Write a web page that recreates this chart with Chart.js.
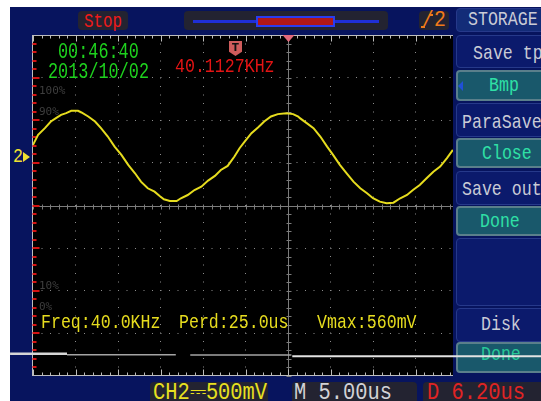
<!DOCTYPE html>
<html>
<head>
<meta charset="utf-8">
<script src="https://cdn.jsdelivr.net/npm/chart.js@4.4.1/dist/chart.umd.min.js"></script>
<style>
  html, body { margin: 0; padding: 0; background: #fff; }
  body { position: relative; width: 541px; height: 401px; overflow: hidden; }
  #screen { position: absolute; left: 10px; top: 7px; right: 0; bottom: 0; background: #07145e; }
  .t { position: absolute; font-family: "Liberation Mono", monospace; white-space: pre; line-height: 1;
       font-size: 21px; transform: scaleX(0.79); transform-origin: 0 0; }
  .big { font-size: 24px; transform: scaleX(0.85); }
  .pct { position: absolute; font-family: "DejaVu Sans Mono", monospace; font-size: 11px; line-height: 1; color: #3e3e3e; z-index: 3; }
  .box { position: absolute; background: #232331; border-radius: 4px; }
  .lbl { position: absolute; left: 456px; width: 100px; box-sizing: border-box; background: #0b1a6c; border: 1px solid #26398a; border-radius: 4px; }
  .btn { position: absolute; left: 456px; width: 100px; box-sizing: border-box; background: #19586b; border: 2px solid #5a7f8b; border-radius: 4px; }
  .menu { color: #c9cbd6; }
  .menu-on { color: #2fe0a6; }
  #wrap { position: absolute; left: 0; top: 0; width: 541px; height: 401px; z-index: 2; pointer-events: none; }
  .over { z-index: 3; }
</style>
</head>
<body>
<div id="screen"></div>

<!-- status bar -->
<div class="box" style="left:78px;top:11px;width:50px;height:19px;"></div>
<div class="t" style="left:84px;top:12px;font-size:20px;color:#f01a1a;">Stop</div>
<div class="box" style="left:184px;top:11px;width:204px;height:19px;"></div>
<div style="position:absolute;left:193px;top:20px;width:186px;height:3px;background:#1f2fd6;"></div>
<div style="position:absolute;left:256px;top:16px;width:75px;height:7px;border:2px solid #2a3cf0;background:#b01818;"></div>
<div class="box" style="left:419px;top:11px;width:30px;height:19px;"></div>
<div class="t" style="left:422px;top:10px;font-size:22px;transform:scaleX(0.9);color:#f07a1a;">/2</div>
<div style="position:absolute;left:429px;top:14px;width:4px;height:2px;background:#f07a1a;"></div>
<div style="position:absolute;left:421px;top:26px;width:4px;height:2px;background:#f07a1a;"></div>

<!-- side menu -->
<div class="lbl" style="top:8px;height:24px;background:#132c78;"></div>
<div class="t menu" style="left:468px;top:9px;">STORAGE</div>
<div class="lbl" style="top:35px;height:33px;"></div>
<div class="t menu" style="left:473px;top:43px;">Save tp</div>
<div class="btn" style="top:70px;height:31px;"></div>
<div style="position:absolute;left:458px;top:81px;width:0;height:0;border-top:5px solid transparent;border-bottom:5px solid transparent;border-right:5px solid #2050d8;"></div>
<div class="t menu-on" style="left:489px;top:75px;">Bmp</div>
<div class="lbl" style="top:103px;height:34px;"></div>
<div class="t menu" style="left:462px;top:112px;">ParaSave</div>
<div class="btn" style="top:138px;height:30px;"></div>
<div class="t menu-on" style="left:482px;top:143px;">Close</div>
<div class="lbl" style="top:171px;height:34px;"></div>
<div class="t menu" style="left:462px;top:179px;">Save out</div>
<div class="btn" style="top:206px;height:30px;"></div>
<div class="t menu-on" style="left:480px;top:211px;">Done</div>
<div class="lbl" style="top:238px;height:68px;"></div>
<div class="lbl" style="top:308px;height:34px;"></div>
<div class="t menu" style="left:481px;top:314px;">Disk</div>
<div class="btn" style="top:342px;height:31px;"></div>
<div class="t menu-on" style="left:481px;top:344px;color:#28c898;">Done</div>

<!-- channel / timebase bar -->
<div class="box" style="left:150px;top:382px;width:118px;height:26px;"></div>
<div class="t big" style="left:153px;top:381px;color:#e8e020;">CH2⎓500mV</div>
<div class="box" style="left:292px;top:382px;width:125px;height:26px;"></div>
<div class="t big" style="left:294px;top:381px;color:#d2d2d6;">M 5.00us</div>
<div class="box" style="left:423px;top:382px;width:130px;height:26px;"></div>
<div class="t big" style="left:427px;top:381px;color:#e02424;">D 6.20us</div>

<!-- channel 2 ground marker -->
<div class="t" style="left:13px;top:146px;color:#f0e030;">2</div>
<div style="position:absolute;left:23px;top:152px;width:0;height:0;border-top:5px solid transparent;border-bottom:5px solid transparent;border-left:7px solid #f0e030;"></div>

<div id="wrap"><canvas id="scope" width="541" height="401"></canvas></div>

<!-- readouts inside the graticule -->
<div class="t over" style="left:58px;top:42px;font-size:22px;transform:scaleX(0.765);color:#1ed21e;">00:46:40</div>
<div class="t over" style="left:48px;top:62px;font-size:22px;transform:scaleX(0.765);color:#1ed21e;">2013/10/02</div>
<div class="t over" style="left:175px;top:56px;color:#e41414;">40.1127KHz</div>
<div class="over" style="position:absolute;left:229px;top:41px;width:13px;height:15px;background:#cf5c5c;clip-path:polygon(0 0,100% 0,100% 72%,50% 100%,0 72%);"></div>
<div class="over" style="position:absolute;left:229px;top:42px;width:13px;text-align:center;font:bold 10px 'DejaVu Sans',sans-serif;color:#111;">T</div>
<div class="pct" style="left:39px;top:85px;">100%</div>
<div class="pct" style="left:39px;top:106px;">90%</div>
<div class="pct" style="left:39px;top:280px;">10%</div>
<div class="pct" style="left:39px;top:301px;">0%</div>
<div class="t over" style="left:41px;top:312px;color:#e6dc1e;">Freq:40.0KHz</div>
<div class="t over" style="left:179px;top:312px;color:#e6dc1e;">Perd:25.0us</div>
<div class="t over" style="left:317px;top:312px;color:#e6dc1e;">Vmax:560mV</div>

<script>
// CH2 trace, time relative to trigger (us), voltage above CH2 ground (mV)
const timeUs = [-30.0, -29.4, -28.6, -27.9, -27.3, -26.7, -26.1, -25.5, -24.7, -24.3,
                -23.5, -22.7, -22.0, -21.2, -20.4, -19.6, -18.8, -18.0, -17.3, -16.5,
                -15.7, -15.1, -14.6, -13.9, -13.1, -12.6, -11.8, -11.0, -10.2, -9.4,
                -8.6, -7.9, -7.1, -6.3, -5.7, -5.1, -4.3, -3.5, -2.8, -2.0,
                -1.2, -0.2, 0.6, 1.2, 1.4, 2.2, 3.0, 3.8, 4.6, 5.3,
                6.1, 6.9, 7.7, 8.5, 9.3, 10.0, 10.8, 11.6, 12.4, 13.2,
                14.0, 14.7, 15.5, 16.3, 17.1, 17.9, 18.7, 19.4];
const ch2mV  = [141, 258, 337, 415, 455, 494, 513, 540, 540, 521,
                474, 415, 337, 239, 121, 24, -94, -192, -290, -368,
                -408, -458, -497, -517, -517, -485, -447, -388, -349, -278,
                -223, -153, -106, 4, 102, 180, 278, 349, 415, 474,
                502, 513, 502, 474, 455, 396, 337, 239, 121, 24,
                -94, -192, -290, -368, -427, -485, -525, -544, -537, -485,
                -447, -388, -329, -250, -173, -114, -15, 82];

// flat CH1 trace pieces (start/end time, level on CH2 scale)
const ch1StartUs = [-32.7, -26.0, -11.5, 0.5];
const ch1EndUs   = [-26.0, -13.2, 0.4, 29.8];
const ch1LevelMv = [-2309, -2321, -2324, -2338];

// graticule divisions: 5 us/div, 500 mV/div (screen centre sits 570 mV below ground)
const xDivUs = [-30, -25, -20, -15, -10, -5, 0, 5, 10, 15];
const yDivMv = [-2570, -2070, -1570, -1070, -570, -70, 430, 930, 1430];

const ch1Colors = ['#d6d6d6', '#a4a4a4', '#a4a4a4', '#e2e2e2'];
const ch1Widths = [2.5, 1.5, 1.5, 2];

const ch1Sets = ch1StartUs.map((s, i) => ({
    data: [{ x: s, y: ch1LevelMv[i] }, { x: ch1EndUs[i], y: ch1LevelMv[i] }],
    borderColor: ch1Colors[i],
    borderWidth: ch1Widths[i],
    clip: false,
    pointRadius: 0
}));

// ── graticule: black field, rulers, crosshair, trigger mark ───
const scopeFrame = {
    id: 'scopeFrame',
    beforeDraw(chart) {
        const { ctx, chartArea: a } = chart;
        ctx.save();
        ctx.fillStyle = '#000';
        ctx.fillRect(a.left, a.top, a.right - a.left, a.bottom - a.top);
        ctx.restore();
    },
    beforeDatasetsDraw(chart) {
        const { ctx, chartArea: a, scales: { x, y } } = chart;
        const stepX = (x.getPixelForValue(5) - x.getPixelForValue(0)) / 5;
        const stepY = (y.getPixelForValue(-2570) - y.getPixelForValue(-2070)) / 5;
        const cx = Math.round(x.getPixelForValue(0)) + 0.5;
        const cy = Math.round(y.getPixelForValue(yDivMv[4])) + 0.5;
        const top = Math.round(a.top) + 0.5;
        const bot = Math.round(a.bottom) - 0.5;
        const left = Math.round(a.left) - 0.5;

        ctx.save();
        ctx.lineWidth = 1;

        // crosshair with fine ticks
        ctx.strokeStyle = '#7c7c7c';
        ctx.beginPath();
        ctx.moveTo(a.left, cy); ctx.lineTo(a.right, cy);
        ctx.moveTo(cx, a.top); ctx.lineTo(cx, a.bottom);
        for (let k = 0; a.left + k * stepX <= a.right; k++) {
            const px = Math.round(a.left + k * stepX) + 0.5;
            ctx.moveTo(px, cy - 2); ctx.lineTo(px, cy + 3);
        }
        for (let k = 0; a.top + k * stepY <= a.bottom; k++) {
            const py = Math.round(a.top + k * stepY) + 0.5;
            ctx.moveTo(cx - 2, py); ctx.lineTo(cx + 3, py);
        }
        ctx.stroke();

        // top / bottom rulers and left edge
        ctx.strokeStyle = '#bdbdbd';
        ctx.beginPath();
        ctx.moveTo(left, top); ctx.lineTo(a.right, top);
        ctx.moveTo(left, bot); ctx.lineTo(a.right, bot);
        ctx.moveTo(left, a.top); ctx.lineTo(left, a.bottom);
        for (let k = 0; a.left + k * stepX <= a.right + 0.5; k++) {
            const px = Math.round(a.left + k * stepX) + 0.5;
            const len = k % 5 === 0 ? 6 : 3;
            ctx.moveTo(px, top); ctx.lineTo(px, top + len);
            ctx.moveTo(px, bot); ctx.lineTo(px, bot - len);
        }
        ctx.stroke();

        ctx.strokeStyle = '#d41212';
        ctx.lineWidth = 2;
        ctx.beginPath();
        for (let k = 1; a.top + k * stepY < a.bottom; k++) {
            const py = Math.round(a.top + k * stepY);
            const len = k % 5 === 0 ? 7 : 4;
            ctx.moveTo(left, py); ctx.lineTo(left + len, py);
        }
        ctx.stroke();

        // trigger position arrow
        ctx.fillStyle = '#e26a7c';
        ctx.beginPath();
        ctx.moveTo(cx - 6, a.top);
        ctx.lineTo(cx + 6, a.top);
        ctx.lineTo(cx, a.top + 7);
        ctx.closePath();
        ctx.fill();
        ctx.restore();
    }
};

const dotColor = (edges) => c => {
    if (!c.tick || edges.includes(c.tick.value)) return 'rgba(0,0,0,0)';
    return '#8c8c8c';
};

new Chart(document.getElementById('scope').getContext('2d'), {
    type: 'line',
    data: {
        datasets: [{
            data: timeUs.map((t, i) => ({ x: t, y: ch2mV[i] })),
            borderColor: '#e6dc1e',
            borderWidth: 2,
            pointRadius: 0,
            tension: 0
        }, ...ch1Sets]
    },
    options: {
        responsive: false,
        animation: false,
        devicePixelRatio: 1,
        events: [],
        layout: { padding: { left: 33, right: 88, top: 35, bottom: 25 } },
        plugins: { legend: { display: false }, tooltip: { enabled: false } },
        scales: {
            x: {
                type: 'linear',
                min: -30,
                max: 19.41,
                ticks: { display: false },
                border: { display: false, dash: [1, 7.5] },
                grid: { drawTicks: false, lineWidth: 1, color: dotColor([-30, 0]) },
                afterBuildTicks: axis => { axis.ticks = xDivUs.map(v => ({ value: v })); }
            },
            y: {
                type: 'linear',
                min: -2570,
                max: 1430,
                ticks: { display: false },
                border: { display: false, dash: [1, 7.5] },
                grid: { drawTicks: false, lineWidth: 1, color: dotColor([-2570, -570, 1430]) },
                afterBuildTicks: axis => { axis.ticks = yDivMv.map(v => ({ value: v })); }
            }
        }
    },
    plugins: [scopeFrame]
});
</script>
</body>
</html>
